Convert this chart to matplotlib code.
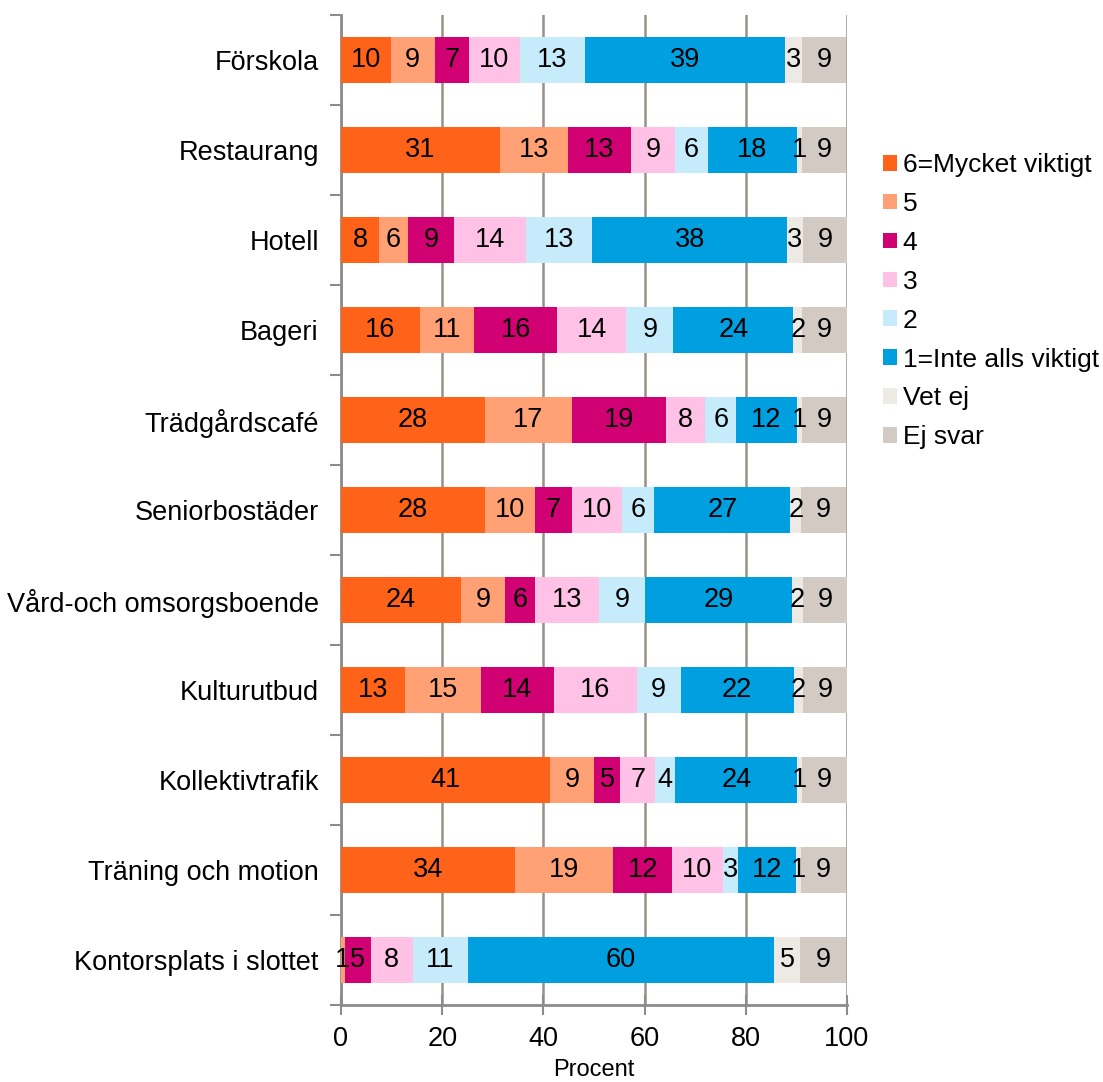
import matplotlib
matplotlib.use("Agg")
import matplotlib.pyplot as plt
import numpy as np

plt.rcParams['font.family'] = ['Liberation Sans', 'DejaVu Sans']

categories = ["Förskola", "Restaurang", "Hotell", "Bageri", "Trädgårdscafé",
              "Seniorbostäder", "Vård-och omsorgsboende", "Kulturutbud",
              "Kollektivtrafik", "Träning och motion", "Kontorsplats i slottet"]

series_names = ["6=Mycket viktigt", "5", "4", "3", "2", "1=Inte alls viktigt",
                "Vet ej", "Ej svar"]

s6 = [9.8, 31.4, 7.6, 15.6, 28.4, 28.4, 23.7, 12.6, 41.3, 34.4, 0.0]
s5 = [8.7, 13.4, 5.6, 10.7, 17.3, 9.9, 8.7, 15.1, 8.7, 19.4, 0.7]
s4 = [6.8, 12.6, 9.1, 16.4, 18.6, 7.3, 6.0, 14.3, 5.2, 11.6, 5.2]
s3 = [10.0, 8.7, 14.3, 13.7, 7.7, 9.9, 12.6, 16.4, 6.9, 10.0, 8.3]
s2 = [13.0, 6.4, 13.1, 9.3, 6.1, 6.4, 9.1, 8.7, 4.0, 3.0, 10.8]
s1 = [39.4, 17.6, 38.4, 23.7, 12.0, 26.9, 29.0, 22.4, 24.1, 11.6, 60.5]
vet_ej = [3.4, 1.0, 3.2, 1.8, 1.0, 2.2, 2.2, 1.8, 1.0, 1.0, 5.3]
ej_svar = [8.8, 8.8, 8.8, 8.8, 8.8, 8.8, 8.8, 8.8, 8.8, 8.8, 9.1]

series = [s6, s5, s4, s3, s2, s1, vet_ej, ej_svar]
colors = ["#FF6319", "#FFA075", "#D10073", "#FFC2E6", "#C6ECFC", "#009FE0",
          "#EDEAE6", "#D2CAC3"]

xticks = [0, 20, 40, 60, 80, 100]

fig = plt.figure(figsize=(11.03, 10.82), dpi=100)
ax = fig.add_axes([341/1103, 1-1005/1082, (847-341)/1103, (1005-15)/1082])

y = np.arange(len(categories))
left = np.zeros(len(categories))
handles = []
for vals, name, col in zip(series, series_names, colors):
    vals = np.array(vals)
    bars = ax.barh(y, vals, left=left, height=0.51, color=col, label=name,
                   linewidth=0, zorder=3)
    labels = [f"{v:.0f}" if v >= 0.5 else "" for v in vals]
    ax.bar_label(bars, labels=labels, label_type='center', fontsize=19.5,
                 color='black', zorder=4)
    left += vals
    handles.append(bars)

ax.set_xlim(0, 100)
ax.set_ylim(len(categories) - 0.5, -0.5)
ax.set_xticks(xticks)
ax.set_xticklabels([str(t) for t in xticks], fontsize=19.5)
ax.set_yticks(y)
ax.set_yticklabels(categories, fontsize=19.5)
ax.set_yticks(np.arange(-0.5, len(categories) + 0.5, 1), minor=True)
ax.tick_params(axis='y', which='major', length=0, pad=16)
ax.tick_params(axis='y', which='minor', length=8, width=1.5, color='#8C8C8C',
               direction='out')
ax.tick_params(axis='x', which='major', length=14, width=1.5, color='#8C8C8C',
               direction='inout', pad=8)
ax.set_xlabel("Procent", fontsize=17, labelpad=5.5)

ax.grid(axis='x', color='#9A9184', linewidth=1.8, zorder=0)
ax.set_axisbelow(True)
for side in ['top', 'right']:
    ax.spines[side].set_visible(False)
for side in ['left', 'bottom']:
    ax.spines[side].set_color('#8C8C8C')
    ax.spines[side].set_linewidth(2)

leg = fig.legend(handles=handles, labels=series_names, loc='upper left',
                 bbox_to_anchor=(883/1103, 1-153/1082), frameon=False,
                 fontsize=19, handlelength=0.54, handleheight=0.54,
                 handletextpad=0.2, labelspacing=0.565, borderpad=0,
                 borderaxespad=0)

fig.savefig("out.png", dpi=100)
